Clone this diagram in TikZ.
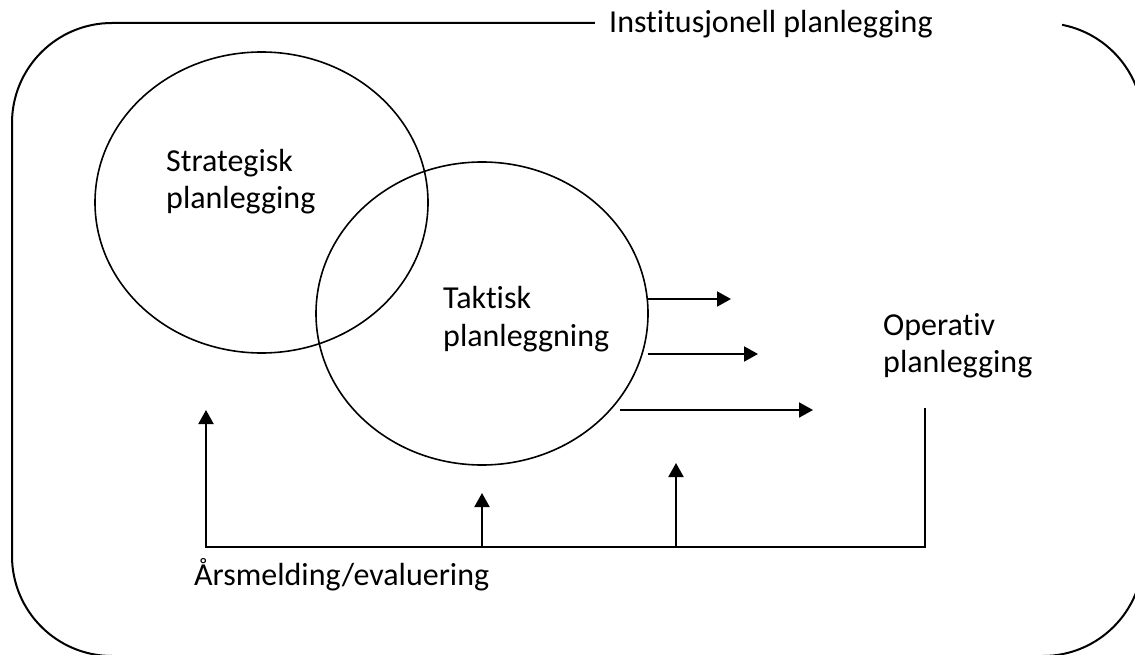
\documentclass[tikz,border=0pt]{standalone}
\usepackage{fontspec}
\setmainfont{Carlito}[Ligatures={NoCommon,NoContextual}]
\usetikzlibrary{shapes.geometric,arrows.meta}
\tikzset{
  lbl/.style={anchor=base west, inner sep=0pt, font=\fontsize{32}{38}\selectfont},
  ring/.style={ellipse, draw, line width=1.6pt, inner sep=0pt},
  arr/.style={line width=2pt, -{Triangle[length=14pt,width=15pt]}},
  fb/.style={line width=2pt}
}
\begin{document}
\begin{tikzpicture}[x=1pt,y=-1pt]
\useasboundingbox (0,0) rectangle (1135,655);
\clip (0,0) rectangle (1135,655);
% outer frame
\draw[line width=2pt, rounded corners=100pt] (12,23) rectangle (1143,656);
\fill[white] (595,0) rectangle (1062,80);
\node[lbl] (inst) at (609,33) {Institusjonell planlegging};
% circles
\node[ring, minimum width=333pt, minimum height=301pt] (strat) at (261.5,202.5) {};
\node[ring, minimum width=332pt, minimum height=303pt] (takt) at (482,313.5) {};
\node[lbl] (s1) at (166,172) {Strategisk};
\node[lbl] (s2) at (166,209) {planlegging};
\node[lbl] (t1) at (443,308) {Taktisk};
\node[lbl] (t2) at (443,346) {planleggning};
\node[lbl] (o1) at (883,335) {Operativ};
\node[lbl] (o2) at (883,372) {planlegging};
\node[lbl] (aars) at (194,585) {Årsmelding/evaluering};
% right arrows
\coordinate (r1s) at (648,299); \coordinate (r1e) at (731,299);
\coordinate (r2s) at (648,354); \coordinate (r2e) at (758,354);
\coordinate (r3s) at (620,410); \coordinate (r3e) at (813,410);
\draw[arr] (r1s) -- (r1e);
\draw[arr] (r2s) -- (r2e);
\draw[arr] (r3s) -- (r3e);
% feedback
\coordinate (opb) at (925,408);
\coordinate (fbl) at (206,547);
\coordinate (fbltop) at (206,410);
\coordinate (m1) at (482,547); \coordinate (m1t) at (482,493);
\coordinate (m2) at (676,547); \coordinate (m2t) at (676,463);
\draw[arr] (opb) |- (fbl) -- (fbltop);
\draw[arr] (m1) -- (m1t);
\draw[arr] (m2) -- (m2t);
\end{tikzpicture}
\end{document}
